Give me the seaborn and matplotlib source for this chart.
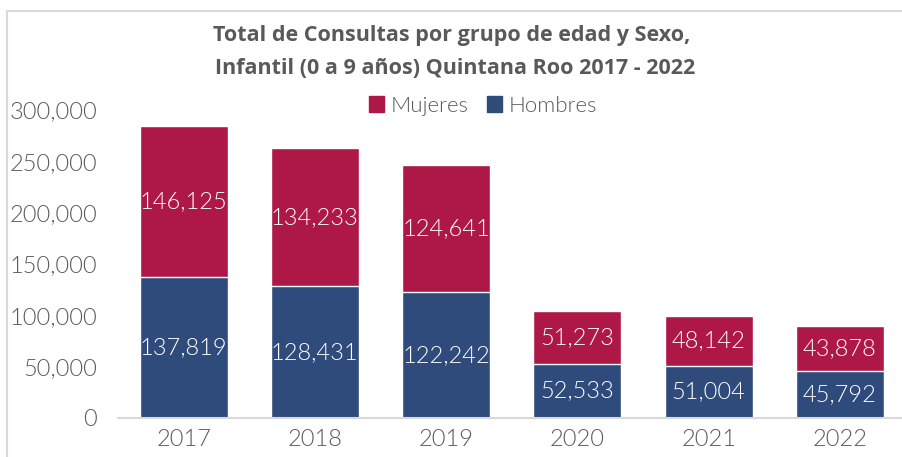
import matplotlib
matplotlib.use("Agg")
import matplotlib.pyplot as plt
from matplotlib.patches import Patch, Rectangle
from matplotlib.ticker import FuncFormatter
import seaborn as sns
import pandas as pd

# data
years = ["2017", "2018", "2019", "2020", "2021", "2022"]
hombres = [137819, 128431, 122242, 52533, 51004, 45792]
mujeres = [146125, 134233, 124641, 51273, 48142, 43878]

c_muj = "#AE1846"
c_hom = "#2F4B7C"
gray = "#595959"
lw = 300  # light weight for body text

sns.set_style("white")
plt.rcParams["font.family"] = ["Lato", "DejaVu Sans"]

df = pd.DataFrame({"year": years, "hombres": hombres, "mujeres": mujeres})
df["total"] = df["hombres"] + df["mujeres"]

fig = plt.figure(figsize=(9.02, 4.57), dpi=100)
ax = fig.add_axes([118 / 902, 39 / 457, 1 - 118 / 902, (418 - 110) / 457])

# stacked bars: total first, then hombres on top of it
sns.barplot(data=df, x="year", y="total", color=c_muj, width=0.67,
            saturation=1, ax=ax)
sns.barplot(data=df, x="year", y="hombres", color=c_hom, width=0.67,
            saturation=1, ax=ax)

# labels centred in each segment
for i, (h, m) in enumerate(zip(hombres, mujeres)):
    ax.text(i, h / 2, f"{h:,}", ha="center", va="center", color="white",
            fontsize=17, fontweight=lw)
    ax.text(i, h + m / 2, f"{m:,}", ha="center", va="center", color="white",
            fontsize=17, fontweight=lw)

ax.set_ylim(0, 300000)
ax.set_xlim(-0.5, 5.5 - 3.5 / 131)
ax.set_yticks(range(0, 300001, 50000))
ax.yaxis.set_major_formatter(FuncFormatter(lambda v, p: f"{int(v):,}"))
ax.set_xlabel("")
ax.set_ylabel("")
ax.tick_params(axis="both", length=0, labelsize=17, colors=gray)
ax.tick_params(axis="y", pad=15)
ax.tick_params(axis="x", pad=8)
for lab in ax.get_xticklabels() + ax.get_yticklabels():
    lab.set_fontweight(lw)

for s in ["top", "right", "left"]:
    ax.spines[s].set_visible(False)
ax.spines["bottom"].set_color("#D9D9D9")
ax.spines["bottom"].set_linewidth(1.5)

handles = [Patch(color=c_muj, label="Mujeres"), Patch(color=c_hom, label="Hombres")]
leg = fig.legend(handles=handles, loc="center", bbox_to_anchor=(483 / 902, 1 - 106 / 457),
                 ncol=2, frameon=False, handlelength=0.7, handleheight=0.7,
                 handletextpad=0.3, columnspacing=0.8,
                 prop={"family": ["Lato", "DejaVu Sans"], "size": 16, "weight": lw})
for t in leg.get_texts():
    t.set_color(gray)

title_font = ["Open Sans", "DejaVu Sans"]
fig.text(0.501, 1 - 35 / 457, "Total de Consultas por grupo de edad y Sexo,",
         ha="center", va="center", fontsize=15.5, fontweight="bold", color=gray,
         family=title_font)
fig.text(0.505, 1 - 68 / 457, "Infantil (0 a 9 años) Quintana Roo 2017 - 2022",
         ha="center", va="center", fontsize=15.5, fontweight="bold", color=gray,
         family=title_font)

# outer chart border
fig.patches.append(Rectangle((6.5 / 902, -0.1), 1.2, 1 - 10.5 / 457 + 0.1,
                             transform=fig.transFigure, fill=False,
                             edgecolor="#D9D9D9", linewidth=1.5))

fig.savefig("out.png", dpi=100)
